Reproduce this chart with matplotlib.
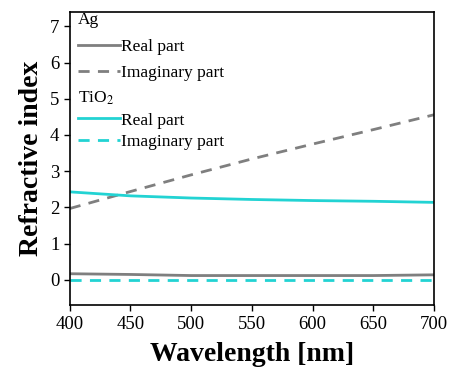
import numpy as np
import matplotlib.pyplot as plt

wavelength = [400, 450, 500, 550, 600, 650, 700]
ag_real = [0.17, 0.15, 0.12, 0.12, 0.12, 0.12, 0.14]
ag_imag = [1.97, 2.44, 2.90, 3.34, 3.75, 4.15, 4.56]
tio2_real = [2.43, 2.32, 2.26, 2.22, 2.19, 2.17, 2.14]
tio2_imag = [0.0, 0.0, 0.0, 0.0, 0.0, 0.0, 0.0]

plt.rcParams['font.family'] = ['Liberation Serif', 'DejaVu Serif']
plt.rcParams['mathtext.fontset'] = 'stix'

fig, ax = plt.subplots(figsize=(4.5, 3.7), dpi=100)
fig.subplots_adjust(left=0.155, right=0.965, top=0.968, bottom=0.175)

grey = '#7f7f7f'
cyan = '#22d3d3'
l1, = ax.plot(wavelength, ag_real, c=grey, lw=2)
l2, = ax.plot(wavelength, ag_imag, '--', c=grey, lw=2, dashes=(4, 3))
l3, = ax.plot(wavelength, tio2_real, c=cyan, lw=2)
l4, = ax.plot(wavelength, tio2_imag, '--', c=cyan, lw=2, dashes=(4, 3))

leg_kw = dict(loc='upper left', frameon=False, fontsize=12.5,
              title_fontsize=12.5, alignment='left', handlelength=2.4,
              handletextpad=0.1, borderaxespad=0.0, borderpad=0.3)
leg1 = ax.legend([l1, l2], ['Real part', 'Imaginary part'], title='Ag',
                 bbox_to_anchor=(0.008, 1.017), labelspacing=0.6, **leg_kw)
ax.add_artist(leg1)
ax.legend([l3, l4], ['Real part', 'Imaginary part'], title='TiO$_2$',
          bbox_to_anchor=(0.008, 0.752), labelspacing=0.3, **leg_kw)

ax.set_xlim(400, 700)
ax.set_ylim(-0.7, 7.4)
ax.set_xticks(np.arange(400, 701, 50))
ax.set_yticks(np.arange(0, 8, 1))
ax.tick_params(direction='out', labelsize=13.5, length=4, width=1)
for s in ax.spines.values():
    s.set_linewidth(1.2)

ax.set_xlabel('Wavelength [nm]', fontsize=20, fontweight='bold', labelpad=7)
ax.set_ylabel('Refractive index', fontsize=20, fontweight='bold', labelpad=4)

fig.savefig('out.png', dpi=100)
